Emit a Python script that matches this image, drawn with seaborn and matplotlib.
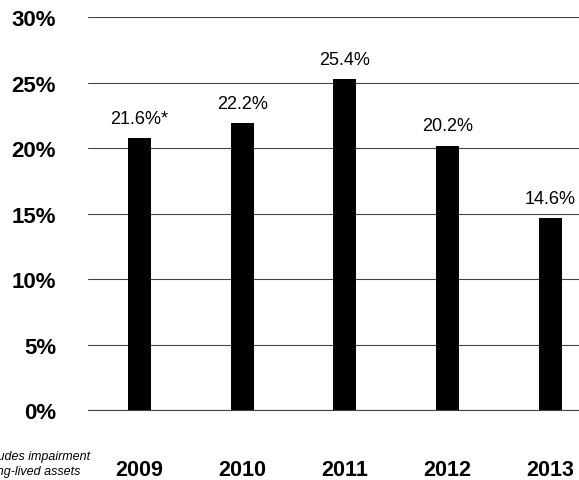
import pandas as pd
import matplotlib.pyplot as plt
import seaborn as sns

# Dados
anos = ['2009', '2010', '2011', '2012', '2013']
altura_barras = [20.8, 21.9, 25.3, 20.2, 14.7]
rotulos = ['21.6%*', '22.2%', '25.4%', '20.2%', '14.6%']
ticks_y = [0, 5, 10, 15, 20, 25, 30]

df = pd.DataFrame({'ano': anos, 'valor': altura_barras})

sns.set_style('white')
plt.rcParams['font.family'] = ['Liberation Sans', 'DejaVu Sans']
plt.rcParams['text.color'] = 'black'
plt.rcParams['xtick.color'] = 'black'
plt.rcParams['ytick.color'] = 'black'

fig = plt.figure(figsize=(5.79, 4.81), dpi=100)
ax = fig.add_axes([0.152, 0.1445, 0.848, 0.818])

sns.barplot(data=df, x='ano', y='valor', color='black', width=0.225,
            saturation=1, edgecolor='black', linewidth=0, ax=ax, zorder=3)

for i, (h, txt) in enumerate(zip(altura_barras, rotulos)):
    ax.annotate(txt, xy=(i, h), xytext=(0, 8), textcoords='offset points',
                ha='center', va='bottom', fontsize=13)

ax.set_ylim(0, 30)
ax.set_xlim(-0.5, 4.28)
ax.set_yticks(ticks_y)
ax.set_yticklabels([f'{t}%' for t in ticks_y], fontsize=16, fontweight='bold')
ax.set_xticks(range(len(anos)))
ax.set_xticklabels(anos, fontsize=15.5, fontweight='bold')
ax.tick_params(axis='y', length=0, pad=23)
ax.tick_params(axis='x', length=0, pad=35)
ax.set_xlabel('')
ax.set_ylabel('')
ax.grid(axis='y', color='#444444', linewidth=0.8, zorder=0)
ax.grid(axis='x', visible=False)
ax.axhline(0, color='#444444', linewidth=0.8, zorder=0, clip_on=False)
for s in ax.spines.values():
    s.set_visible(False)

# Nota de rodapé (cortada na borda esquerda, como no original)
fig.text(90 / 579, 1 - 457 / 481, '*Excludes impairment', ha='right', va='center',
         fontsize=9, style='italic')
fig.text(80 / 579, 1 - 472 / 481, 'of long-lived assets', ha='right', va='center',
         fontsize=9, style='italic')

fig.savefig('out.png', dpi=100)
